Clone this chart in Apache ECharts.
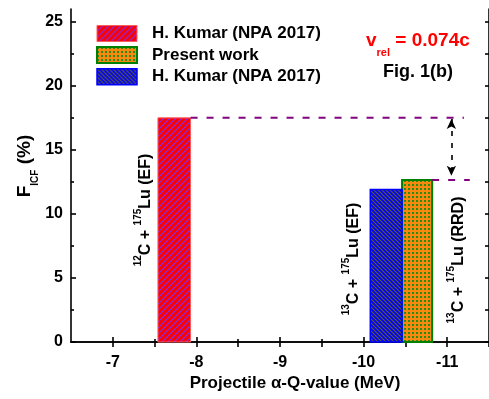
<!DOCTYPE html>
<html><head><meta charset="utf-8">
<script src="https://cdn.jsdelivr.net/npm/echarts@6/dist/echarts.min.js"></script>
<style>html,body{margin:0;padding:0;background:#fff}#c{width:489px;height:399px}</style>
</head><body><div id="c"></div>
<script>
// ---- data ----
const seriesNames = ['H. Kumar (NPA 2017)', 'Present work', 'H. Kumar (NPA 2017) '];
const barStart = [-7.54, -10.46, -10.08];
const barEnd = [-7.93, -10.82, -10.46];
const barValues = [17.5, 12.65, 11.9];
const xLabelValues = [-7, -8, -9, -10, -11];
const xMinorValues = [-7.5, -8.5, -9.5, -10.5];
const xTopTicks = [-7, -7.5, -8, -8.5, -9, -9.5, -10, -10.5, -11, -11.5];
const yLabelValues = [0, 5, 10, 15, 20, 25];
const yMinorValues = [2.5, 7.5, 12.5, 17.5, 22.5];
const upperRefLine = [[-7.93, 17.5], [-11.2, 17.5]];
const lowerRefLine = [[-10.82, 12.65], [-11.27, 12.65]];
const arrowLine = [[-11.05, 17.42], [-11.05, 12.99]];

const FONT = "'Liberation Sans', Arial, sans-serif";

function makePattern(size, bg, draw) {
  const c = document.createElement('canvas');
  c.width = c.height = size;
  const g = c.getContext('2d');
  g.fillStyle = bg; g.fillRect(0, 0, size, size);
  draw(g, size);
  return { image: c, repeat: 'repeat' };
}
const redPat = makePattern(6, '#ff0000', (g, s) => {
  g.strokeStyle = '#7a30ff'; g.lineWidth = 1.1;
  g.beginPath();
  g.moveTo(-1, s + 1); g.lineTo(s + 1, -1);
  g.moveTo(-1, 1); g.lineTo(1, -1);
  g.moveTo(s - 1, s + 1); g.lineTo(s + 1, s - 1);
  g.stroke();
});
const bluePat = makePattern(4, '#0000ff', (g, s) => {
  g.strokeStyle = '#5c5c34'; g.lineWidth = 1.2;
  g.beginPath();
  g.moveTo(-1, -1); g.lineTo(s + 1, s + 1);
  g.moveTo(s - 1, -1); g.lineTo(s + 1, 1);
  g.moveTo(-1, s - 1); g.lineTo(1, s + 1);
  g.stroke();
});
const orangePat = makePattern(4, '#f7890f', (g, s) => {
  g.fillStyle = '#2a8a1a';
  g.fillRect(0, 0, 2, 2);
});
const fills = [redPat, orangePat, bluePat];
const strokes = ['#ff5a5a', '#008000', '#0000ff'];
const strokeW = [1, 2, 1.5];

const chart = echarts.init(document.getElementById('c'));

function barSeries(i) {
  return {
    type: 'custom', name: seriesNames[i], xAxisIndex: 0, yAxisIndex: 0,
    itemStyle: { color: fills[i], borderColor: strokes[i], borderWidth: strokeW[i] },
    encode: { x: [0, 1], y: 2 },
    data: [[barStart[i], barEnd[i], barValues[i]]],
    z: 3,
    renderItem: function (params, api) {
      const p0 = api.coord([api.value(0), api.value(2)]);
      const p1 = api.coord([api.value(1), 0]);
      return {
        type: 'rect',
        shape: { x: Math.min(p0[0], p1[0]), y: p0[1], width: Math.abs(p1[0] - p0[0]), height: p1[1] - p0[1] },
        style: { fill: fills[i], stroke: strokes[i], lineWidth: strokeW[i] }
      };
    }
  };
}

const axisCommonX = { type: 'value', min: -11.5, max: -6.5, inverse: true, splitLine: { show: false } };
const axisLineStyle = { show: true, lineStyle: { color: '#000', width: 1.6 } };

chart.setOption({
  animation: false,
  backgroundColor: '#fff',
  grid: { left: 71, top: 9, width: 425, height: 333 },
  legend: {
    orient: 'vertical', left: 96, top: 25, padding: 0, itemWidth: 40, itemHeight: 16, itemGap: 4,
    icon: 'rect',
    formatter: n => n.trim(),
    textStyle: { fontSize: 17, fontWeight: 'bold', fontFamily: FONT, color: '#000', padding: [0, 0, 0, 10] },
    data: seriesNames.map((n, i) => ({ name: n, itemStyle: { color: fills[i], borderColor: strokes[i], borderWidth: strokeW[i] } }))
  },
  xAxis: [
    Object.assign({}, axisCommonX, {
      position: 'bottom', axisLine: axisLineStyle,
      axisTick: { show: true, inside: true, length: 5, lineStyle: { color: '#000', width: 1.6 }, customValues: xLabelValues },
      axisLabel: { customValues: xLabelValues, margin: 13, fontSize: 16, fontWeight: 'bold', fontFamily: FONT, color: '#000' }
    }),
    Object.assign({}, axisCommonX, {
      position: 'bottom', axisLine: { show: false },
      axisTick: { show: true, inside: true, length: 3, lineStyle: { color: '#000', width: 1.6 }, customValues: xMinorValues },
      axisLabel: { show: false }
    }),
    Object.assign({}, axisCommonX, {
      position: 'top', axisLine: axisLineStyle,
      axisTick: { show: true, inside: true, length: 5, lineStyle: { color: '#000', width: 1.6 }, customValues: xTopTicks },
      axisLabel: { show: false }
    })
  ],
  yAxis: [
    {
      type: 'value', min: 0, max: 26, position: 'left', splitLine: { show: false }, axisLine: axisLineStyle,
      axisTick: { show: true, inside: true, length: 5, lineStyle: { color: '#000', width: 1.6 }, customValues: yLabelValues },
      axisLabel: { customValues: yLabelValues, margin: 8, fontSize: 16, fontWeight: 'bold', fontFamily: FONT, color: '#000' }
    },
    {
      type: 'value', min: 0, max: 26, position: 'left', splitLine: { show: false }, axisLine: { show: false },
      axisTick: { show: true, inside: true, length: 3, lineStyle: { color: '#000', width: 1.6 }, customValues: yMinorValues },
      axisLabel: { show: false }
    },
    {
      type: 'value', min: 0, max: 26, position: 'right', splitLine: { show: false }, axisLine: axisLineStyle,
      axisTick: { show: true, inside: true, length: 4, lineStyle: { color: '#000', width: 1.6 }, customValues: yLabelValues.concat(yMinorValues) },
      axisLabel: { show: false }
    }
  ],
  series: [
    barSeries(0), barSeries(1), barSeries(2),
    {
      type: 'line', data: upperRefLine, symbol: 'none', z: 4,
      lineStyle: { color: '#800080', width: 2, type: [7, 9] }
    },
    {
      type: 'line', data: lowerRefLine, symbol: 'none', z: 4,
      lineStyle: { color: '#800080', width: 2, type: [7, 9] },
      markLine: {
        silent: true, symbol: ['arrow', 'arrow'], symbolSize: [7, 10], label: { show: false },
        lineStyle: { color: '#000', width: 1.6, type: [5, 7] },
        data: [[{ coord: arrowLine[0] }, { coord: arrowLine[1] }]]
      }
    }
  ],
  graphic: [
    {
      type: 'text', x: 25, y: 166, rotation: Math.PI / 2,
      style: {
        text: '{f|F}{s|ICF}{f| (%)}', align: 'center', verticalAlign: 'middle', fill: '#000',
        rich: {
          f: { fontSize: 19, fontWeight: 'bold', fontFamily: FONT, lineHeight: 30 },
          s: { fontSize: 10, fontWeight: 'bold', fontFamily: FONT, verticalAlign: 'bottom', lineHeight: 30 }
        }
      }
    },
    {
      type: 'text', x: 295, y: 383,
      style: { text: 'Projectile α-Q-value (MeV)', align: 'center', verticalAlign: 'middle', fill: '#000', fontSize: 17, fontWeight: 'bold', fontFamily: FONT }
    },
    {
      type: 'text', x: 366, y: 41,
      style: {
        text: '{v|v}{s|rel}{v| = 0.074c}', align: 'left', verticalAlign: 'middle', fill: '#ff0000',
        rich: {
          v: { fontSize: 19, fontWeight: 'bold', fontFamily: FONT, fill: '#ff0000', lineHeight: 34 },
          s: { fontSize: 11, fontWeight: 'bold', fontFamily: FONT, fill: '#ff0000', verticalAlign: 'bottom', lineHeight: 34 }
        }
      }
    },
    {
      type: 'text', x: 383, y: 72,
      style: { text: 'Fig. 1(b)', align: 'left', verticalAlign: 'middle', fill: '#000', fontSize: 18, fontWeight: 'bold', fontFamily: FONT }
    },
    ...[
      { x: 146, y: 210, t: '{p|12}{m|C + }{p|175}{m|Lu (EF)}' },
      { x: 354, y: 259, t: '{p|13}{m|C + }{p|175}{m|Lu (EF)}' },
      { x: 459, y: 260, t: '{p|13}{m|C + }{p|175}{m|Lu (RRD)}' }
    ].map(o => ({
      type: 'text', x: o.x, y: o.y, rotation: Math.PI / 2, z: 10,
      style: {
        text: o.t, align: 'center', verticalAlign: 'middle', fill: '#000',
        rich: {
          m: { fontSize: 16, fontWeight: 'bold', fontFamily: FONT, lineHeight: 26 },
          p: { fontSize: 10, fontWeight: 'bold', fontFamily: FONT, verticalAlign: 'top', lineHeight: 26 }
        }
      }
    }))
  ]
});
</script>
</body></html>
